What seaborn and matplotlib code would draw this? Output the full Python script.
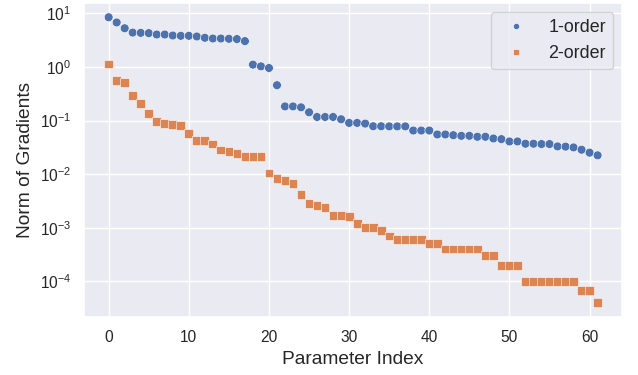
import numpy as np
import pandas as pd
import seaborn as sns
import matplotlib
matplotlib.use("Agg")
import matplotlib.pyplot as plt

# gradient norms, one value per parameter index
first_order = [8.5, 6.8, 5.3, 4.4, 4.35, 4.3, 4.05, 4.05, 3.88, 3.83,
               3.83, 3.72, 3.52, 3.41, 3.41, 3.37, 3.33, 3.05, 1.11, 1.03,
               0.96, 0.458, 0.184, 0.184, 0.177, 0.143, 0.117, 0.117, 0.117, 0.106,
               0.0906, 0.0906, 0.088, 0.0785, 0.0785, 0.078, 0.078, 0.078, 0.0653, 0.0653,
               0.0653, 0.0551, 0.0551, 0.0534, 0.052, 0.052, 0.0499, 0.0499, 0.0464, 0.0451,
               0.0408, 0.0408, 0.037, 0.037, 0.0365, 0.0365, 0.033, 0.0327, 0.0316, 0.0286,
               0.0252, 0.0225]
second_order = [1.14, 0.567, 0.512, 0.29, 0.212, 0.135, 0.0958, 0.089, 0.0855, 0.0807,
                0.0566, 0.0432, 0.042, 0.0365, 0.0282, 0.0263, 0.0245, 0.0213, 0.0213, 0.0213,
                0.0105, 0.0084, 0.0075, 0.0067, 0.0042, 0.0028, 0.0026, 0.0024, 0.0017, 0.0017,
                0.0016, 0.0012, 0.001, 0.001, 0.0009, 0.0007, 0.0006, 0.0006, 0.0006, 0.0006,
                0.0005, 0.0005, 0.0004, 0.0004, 0.0004, 0.0004, 0.0004, 0.0003, 0.0003, 0.0002,
                0.0002, 0.0002, 0.0001, 0.0001, 0.0001, 0.0001, 0.0001, 0.0001, 0.0001, 0.000068,
                0.000067, 0.00004]
labels = ["1-order", "2-order"]

idx = np.arange(len(first_order))
df = pd.DataFrame({
    "Parameter Index": np.concatenate([idx, idx]),
    "Norm of Gradients": first_order + second_order,
    "order": [labels[0]] * len(idx) + [labels[1]] * len(idx),
})

sns.set_theme(style="darkgrid")
plt.rcParams["font.family"] = ["Liberation Sans", "DejaVu Sans"]

fig, ax = plt.subplots(figsize=(6.38, 3.75), dpi=100)
fig.subplots_adjust(left=0.132, right=0.975, bottom=0.155, top=0.992)

sns.scatterplot(data=df, x="Parameter Index", y="Norm of Gradients",
                hue="order", style="order", markers=["o", "s"], s=40,
                linewidth=0.4, ax=ax)
ax.set_yscale("log")
ax.tick_params(labelsize=11.2)
ax.set_xlabel("Parameter Index", fontsize=13.8)
ax.set_ylabel("Norm of Gradients", fontsize=13.8)
ax.legend(loc="upper right", fontsize=12.9, markerscale=0.7)

fig.savefig("out.png", dpi=100)
